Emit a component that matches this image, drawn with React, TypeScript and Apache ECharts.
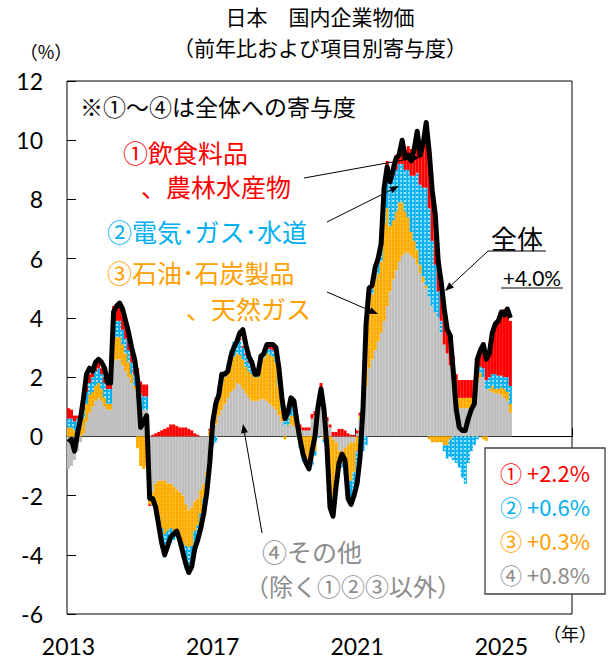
import React, { useEffect, useRef } from "react";
import * as echarts from "echarts";

// ---- categories: monthly, Jan 2013 .. Dec 2026 (data to Apr 2025)
const startYear = 2013;
const endYear = 2026;
const categories: string[] = [];
for (let y = startYear; y <= endYear; y++) {
  for (let m = 1; m <= 12; m++) categories.push(`${y}/${m}`);
}

// ---- 全体 (YoY %)
const total = [
  -0.2, -0.1, -0.5, 0.1, 0.6, 1.3, 2.1, 2.3, 2.2, 2.5, 2.6, 2.5,
  2.3, 1.8, 1.8, 4.2, 4.4, 4.5, 4.3, 3.9, 3.5, 3.0, 2.6, 1.9,
  0.3, 0.5, 0.7, -2.1, -2.1, -2.4, -3.0, -3.6, -4.0, -3.7, -3.4, -3.3,
  -3.2, -3.5, -3.9, -4.3, -4.6, -4.4, -3.8, -3.5, -3.1, -2.6, -1.9, -0.9,
  0.5, 1.1, 1.4, 2.1, 2.1, 2.2, 2.7, 3.0, 3.2, 3.5, 3.6, 3.1,
  2.7, 2.5, 2.1, 2.1, 2.7, 2.8, 3.1, 3.1, 3.1, 3.0, 2.3, 1.3,
  0.6, 0.8, 1.3, 1.2, 0.5, -0.1, -0.6, -0.9, -1.1, -0.5, 0.0, 1.0,
  1.6, 0.9, -0.4, -2.4, -2.7, -1.7, -0.9, -0.6, -0.8, -2.1, -2.3, -2.0,
  -1.6, -0.7, 1.0, 3.8, 5.0, 5.1, 5.7, 6.0, 6.5, 8.4, 9.1, 8.6,
  9.0, 9.4, 9.5, 10.0, 9.4, 9.5, 9.3, 9.7, 10.3, 9.5, 9.9, 10.6,
  9.6, 8.3, 7.5, 5.9, 5.2, 4.3, 3.6, 3.4, 2.2, 0.9, 0.3, 0.2,
  0.2, 0.6, 0.9, 1.1, 2.6, 2.9, 3.1, 2.6, 2.8, 3.5, 3.8, 3.9,
  4.2, 4.1, 4.3, 4.0,
];

// ---- ④ その他
const other = [
  -1.1, -1.0, -0.8, -0.5, -0.2, 0.1, 0.5, 0.8, 1.0, 1.2, 1.3, 1.2,
  1.0, 0.9, 0.9, 2.55, 2.6, 2.6, 2.4, 2.2, 2.0, 1.8, 1.6, 1.4,
  1.0, 0.9, 0.9, -2.0, -1.9, -1.6, -1.5, -1.5, -1.5, -1.6, -1.6, -1.7,
  -1.8, -1.9, -2.0, -2.3, -2.5, -2.4, -2.2, -2.1, -1.8, -1.6, -1.2, -0.5,
  0.1, 0.4, 0.7, 0.9, 1.1, 1.3, 1.5, 1.6, 1.8, 1.75, 1.6, 1.45,
  1.3, 1.2, 1.2, 1.2, 1.25, 1.25, 1.2, 1.1, 1.0, 0.9, 0.7, 0.5,
  0.35, 0.35, 0.4, 0.35, 0.3, 0.25, 0.2, 0.2, 0.2, 0.6, 0.7, 0.8,
  1.2, 0.9, 0.5, 0.3, -0.1, -0.2, -0.5, -0.5, -0.4, -0.3, -0.2, -0.2,
  0.1, 0.6, 1.1, 1.7, 2.3, 2.6, 2.9, 3.2, 3.5, 3.9, 4.4, 4.9,
  5.3, 5.6, 5.9, 6.1, 6.2, 6.2, 6.1, 6.0, 5.8, 5.5, 5.2, 5.0,
  4.7, 4.4, 4.2, 4.0, 3.5, 3.1, 2.8, 2.4, 1.8, 1.1, 0.95, 0.95,
  0.95, 0.95, 1.0, 1.0, 1.8, 2.0, 2.0, 1.6, 1.55, 1.5, 1.45, 1.45,
  1.4, 1.3, 1.2, 0.8,
];

// ---- ③ 石油・石炭製品、天然ガス
const oil = [
  0.3, 0.3, 0.2, 0.3, 0.4, 0.5, 0.6, 0.6, 0.5, 0.5, 0.5, 0.4,
  0.3, 0.2, 0.2, 0.75, 0.75, 0.75, 0.7, 0.6, 0.5, 0.3, 0.1, -0.4,
  -1.0, -1.1, -1.0, -0.3, -0.4, -0.8, -1.2, -1.6, -1.8, -1.6, -1.5, -1.5,
  -1.4, -1.5, -1.6, -1.4, -1.25, -1.3, -1.0, -0.9, -0.8, -0.5, -0.2, 0.2,
  0.5, 0.8, 0.9, 0.9, 0.9, 0.9, 1.0, 1.1, 1.0, 1.0, 1.0, 0.9,
  0.9, 0.9, 0.8, 0.8, 1.2, 1.4, 1.6, 1.65, 1.7, 1.6, 1.0, 0.4,
  -0.1, 0.05, 0.3, 0.35, 0.05, -0.3, -0.6, -0.8, -0.9, -0.8, -0.5, 0.0,
  0.3, -0.1, -0.7, -2.0, -2.2, -1.4, -0.4, -0.4, -0.6, -1.2, -1.3, -1.0,
  -0.5, 0.1, 0.5, 1.8, 2.3, 2.2, 2.4, 2.3, 2.4, 3.3, 3.3, 2.2,
  2.0, 2.0, 2.0, 1.8, 1.4, 1.2, 0.8, 0.6, 0.5, 0.3, 0.2, 0.1,
  -0.1, -0.2, -0.2, -0.2, -0.2, -0.3, -0.3, -0.1, 0.1, 0.3, 0.35, 0.35,
  0.35, 0.35, 0.3, 0.3, 0.2, 0.15, -0.1, -0.15, 0.05, 0.2, 0.15, 0.15,
  0.25, 0.3, 0.3, 0.3,
];

// ---- ② 電気・ガス・水道
const utilities = [
  0.3, 0.3, 0.3, 0.3, 0.3, 0.3, 0.4, 0.4, 0.5, 0.5, 0.5, 0.5,
  0.5, 0.5, 0.5, 0.55, 0.55, 0.55, 0.5, 0.5, 0.4, 0.4, 0.4, 0.4,
  0.45, 0.45, 0.45, 0.0, -0.05, -0.1, -0.3, -0.6, -0.8, -0.6, -0.5, -0.3,
  -0.2, -0.3, -0.5, -0.8, -0.9, -0.8, -0.6, -0.5, -0.4, -0.35, -0.3, -0.3,
  -0.3, -0.2, 0.0, 0.15, 0.2, 0.25, 0.4, 0.5, 0.5, 0.5, 0.4, 0.4,
  0.3, 0.2, 0.1, 0.1, 0.2, 0.2, 0.2, 0.2, 0.2, 0.3, 0.4, 0.5,
  0.45, 0.45, 0.45, 0.4, 0.25, -0.1, -0.25, -0.2, -0.15, -0.2, -0.15, -0.05,
  0.05, -0.1, -0.2, -0.3, -0.3, -0.2, -0.1, -0.15, -0.3, -0.6, -0.8, -0.8,
  -0.7, -0.6, -0.5, -0.3, 0.1, 0.2, 0.3, 0.4, 0.5, 1.0, 1.2, 1.5,
  1.5, 1.4, 1.3, 1.3, 1.4, 1.6, 1.9, 2.2, 2.6, 2.7, 3.0, 3.3,
  3.0, 2.2, 1.6, 0.9, 0.4, -0.2, -0.45, -0.6, -0.8, -0.9, -1.05, -1.4,
  -1.6, -0.9, -0.5, -0.3, -0.1, 0.2, 0.3, 0.3, 0.4, 0.4, 0.5, 0.45,
  0.4, 0.4, 0.5, 0.6,
];

// ---- ① 飲食料品、農林水産物
const food = [
  0.35, 0.3, 0.2, 0.1, 0.1, 0.1, 0.2, 0.3, 0.2, 0.2, 0.2, 0.2,
  0.2, 0.2, 0.2, 0.55, 0.55, 0.55, 0.5, 0.5, 0.5, 0.5, 0.5, 0.5,
  0.4, 0.4, 0.4, -0.05, 0.05, 0.1, 0.15, 0.2, 0.25, 0.3, 0.4, 0.4,
  0.35, 0.3, 0.3, 0.3, 0.25, 0.2, 0.1, 0.05, 0.0, 0.0, 0.0, 0.05,
  0.1, 0.1, 0.05, 0.05, 0.0, 0.0, 0.0, 0.0, 0.0, 0.05, 0.05, 0.05,
  0.05, 0.05, 0.05, 0.05, 0.1, 0.1, 0.15, 0.15, 0.15, 0.15, 0.1, 0.1,
  0.05, 0.05, 0.1, 0.1, 0.1, 0.15, 0.1, 0.1, 0.1, 0.15, 0.15, 0.2,
  0.25, 0.2, 0.15, 0.1, 0.15, 0.15, 0.25, 0.25, 0.2, 0.1, 0.05, 0.05,
  0.1, 0.1, 0.1, 0.2, 0.2, 0.2, 0.2, 0.2, 0.2, 0.3, 0.4, 0.4,
  0.4, 0.5, 0.5, 0.7, 0.7, 0.8, 0.9, 1.0, 1.2, 1.3, 1.5, 1.6,
  1.6, 1.5, 1.4, 1.3, 1.0, 0.9, 0.9, 0.8, 0.8, 0.7, 0.6, 0.6,
  0.6, 0.6, 0.6, 0.6, 0.6, 0.6, 0.7, 0.8, 0.9, 1.5, 1.7, 1.9,
  2.2, 2.3, 2.3, 2.2,
];

const yMin = -6;
const yMax = 12;
const yStep = 2;
const labelEvery = 48; // one label every 4 years
const latestTotal = "+4.0%";
const legendItems = [
  { text: "① +2.2%", color: "#FF0000" },
  { text: "② +0.6%", color: "#00B0F0" },
  { text: "③ +0.3%", color: "#FFA000" },
  { text: "④ +0.8%", color: "#8C8C8C" },
];

const JP = "'Noto Sans CJK JP', 'Noto Sans', sans-serif";
const NUM = "Lato, 'Liberation Sans', sans-serif";

function txt(text: string, x: number, y: number, size: number, color: string, align = "left", family = JP) {
  return {
    type: "text",
    x,
    y,
    z: 100,
    style: { text, fill: color, fontSize: size, fontFamily: family, textAlign: align, textVerticalAlign: "middle" },
  };
}

function arrow(x1: number, y1: number, x2: number, y2: number) {
  const a = Math.atan2(y2 - y1, x2 - x1);
  const len = 9;
  const w = 3.5;
  const bx = x2 - len * Math.cos(a);
  const by = y2 - len * Math.sin(a);
  return [
    { type: "line", z: 100, shape: { x1, y1, x2: bx, y2: by }, style: { stroke: "#000", lineWidth: 1 } },
    {
      type: "polygon",
      z: 100,
      shape: {
        points: [
          [x2, y2],
          [bx + w * Math.sin(a), by - w * Math.cos(a)],
          [bx - w * Math.sin(a), by + w * Math.cos(a)],
        ],
      },
      style: { fill: "#000" },
    },
  ];
}

function hline(x1: number, x2: number, y: number) {
  return { type: "line", z: 100, shape: { x1, y1: y, x2, y2: y }, style: { stroke: "#000", lineWidth: 1.2 } };
}

export default function App() {
  const ref = useRef<HTMLDivElement>(null);
  useEffect(() => {
    if (!ref.current) return;
    const chart = echarts.init(ref.current, undefined, { renderer: "svg" });
    const barBase = {
      type: "bar",
      stack: "c",
      xAxisIndex: 0,
      barCategoryGap: "0%",
      barWidth: "100%",
    };
    const graphic: any[] = [
      txt("日本　国内企業物価", 320, 16, 21, "#000", "center"),
      txt("（前年比および項目別寄与度）", 320, 47, 21, "#000", "center"),
      txt("（%）", 46, 51, 18, "#000", "center"),
      txt("（年）", 570, 633, 18, "#000", "center"),
      txt("※①～④は全体への寄与度", 80, 106, 23, "#000"),
      txt("①飲食料品", 123, 152, 25, "#FF0000"),
      txt("、農林水産物", 141, 186, 25, "#FF0000"),
      txt("②電気･ガス･水道", 107, 231, 25, "#00B0F0"),
      txt("③石油･石炭製品", 107, 272, 25, "#FFA000"),
      txt("、天然ガス", 186, 308, 25, "#FFA000"),
      txt("全体", 517, 237, 26, "#000", "center"),
      hline(488, 546, 251),
      txt(latestTotal, 532, 277, 21, "#000", "center", NUM),
      hline(501, 563, 288),
      txt("④その他", 262, 551, 25, "#8C8C8C"),
      txt("（除く①②③以外）", 245, 585, 24, "#8C8C8C"),
      ...arrow(304, 178, 420, 157),
      ...arrow(327, 222, 399, 186),
      ...arrow(327, 292, 378, 314),
      ...arrow(488, 251, 445, 291),
      ...arrow(262, 533, 243, 424),
      {
        type: "rect",
        z: 100,
        shape: { x: 485, y: 448, width: 120, height: 146 },
        style: { fill: "#fff", stroke: "#404040", lineWidth: 1.3 },
      },
      ...legendItems.map((it, i) => txt(it.text, 500, 472 + i * 34, 22, it.color)),
    ];

    chart.setOption({
      animation: false,
      grid: {
        left: 67,
        right: 41,
        top: 81,
        bottom: 46,
        show: true,
        borderColor: "#000",
        borderWidth: 1,
        containLabel: false,
      },
      xAxis: [
        {
          type: "category",
          data: categories,
          position: "bottom",
          boundaryGap: true,
          axisLine: { show: false, onZero: false },
          axisTick: { show: false },
          axisLabel: {
            interval: labelEvery - 1,
            formatter: (v: string) => v.split("/")[0],
            fontSize: 23,
            fontFamily: NUM,
            color: "#000",
            margin: 20,
          },
          splitLine: { show: false },
        },
        {
          type: "category",
          data: categories,
          position: "top",
          boundaryGap: true,
          axisLine: { show: true, onZero: true, lineStyle: { color: "#000", width: 1 } },
          axisTick: { show: true, inside: false, length: 8, interval: labelEvery - 1, lineStyle: { color: "#000" } },
          axisLabel: { show: false },
          splitLine: { show: false },
        },
      ],
      yAxis: {
        type: "value",
        min: yMin,
        max: yMax,
        interval: yStep,
        axisLine: { show: false },
        axisTick: { show: true, inside: true, length: 9, lineStyle: { color: "#000" } },
        axisLabel: { fontSize: 23, fontFamily: NUM, color: "#000", margin: 24 },
        splitLine: { show: false },
      },
      series: [
        { ...barBase, name: "④", data: other, itemStyle: { color: "#BFBFBF" } },
        {
          ...barBase,
          name: "③",
          data: oil,
          itemStyle: {
            color: "#FFB000",
            decal: {
              symbol: "circle",
              symbolSize: 0.9,
              dashArrayX: [1.5, 1.5],
              dashArrayY: [1.5, 1.5],
              color: "rgba(230,140,0,0.55)",
            },
          },
        },
        {
          ...barBase,
          name: "②",
          data: utilities,
          itemStyle: {
            color: "#00B0F0",
            decal: {
              symbol: "circle",
              symbolSize: 0.9,
              dashArrayX: [1.5, 1.5],
              dashArrayY: [1.5, 1.5],
              color: "rgba(255,255,255,0.85)",
            },
          },
        },
        { ...barBase, name: "①", data: food, itemStyle: { color: "#FF0000" } },
        {
          type: "line",
          name: "全体",
          xAxisIndex: 0,
          data: total,
          symbol: "none",
          z: 10,
          lineStyle: { color: "#000", width: 5, join: "round" },
        },
      ],
      graphic,
    });
    return () => chart.dispose();
  }, []);
  return <div ref={ref} style={{ position: "fixed", left: 0, top: 0, width: 613, height: 660, background: "#fff" }} />;
}
